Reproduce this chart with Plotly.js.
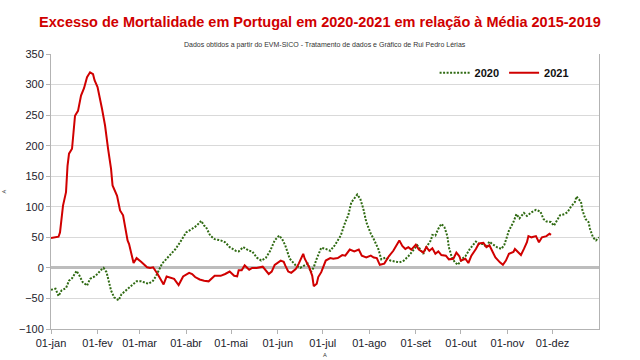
<!DOCTYPE html>
<html><head><meta charset="utf-8">
<script src="https://cdn.plot.ly/plotly-3.0.1.min.js"></script>
<style>html,body{margin:0;padding:0;background:#fff;}#chart{width:640px;height:360px;}</style>
</head><body><div id="chart"></div>
<script>
// days since 01-jan
const days2020 = [0,3,5,7,10,12,14,17,19,21,24,26,29,31,33,35,37,38,40,42,45,47,50,54,57,60,63,65,68,70,74,77,79,81,83,86,90,94,97,100,102,103,106,109,113,116,119,123,125,128,132,134,137,140,143,146,149,152,154,156,159,163,166,168,171,173,175,177,180,183,186,189,193,196,198,200,203,204,206,208,210,213,215,218,220,223,226,229,232,235,238,242,244,246,248,250,253,254,256,258,260,262,264,265,267,269,271,274,276,279,283,285,288,290,292,294,297,300,302,305,308,310,312,315,317,320,323,326,328,330,333,335,337,339,342,344,346,349,350,353,354,356,358,359,361,363,365];
const vals2020 = [-36,-34,-46,-37,-33,-21,-17,-5,-13,-23,-29,-18,-14,-10,-4,0,-7,-18,-37,-48,-53,-43,-37,-29,-22,-22,-25,-26,-21,-13,7,15,20,26,31,42,58,64,69,77,69,68,53,47,45,42,34,28,27,34,28,27,17,12,16,28,45,53,47,37,15,4,0,3,7,-7,1,15,33,31,28,37,53,75,86,107,117,120,113,97,75,56,47,31,14,17,12,10,9,12,19,31,37,30,23,34,45,54,53,64,72,67,52,34,17,9,5,15,19,31,43,39,39,34,43,39,34,31,38,61,75,88,81,90,85,91,95,92,80,76,75,69,77,86,88,91,99,108,117,108,94,80,75,64,50,45,50];
const days2021 = [0,5,6,8,10,11,12,14,15,16,18,20,22,24,26,28,29,31,34,36,38,40,41,44,46,48,51,52,55,57,60,64,66,68,71,75,77,78,82,85,88,92,94,96,99,102,105,109,113,116,119,122,124,125,127,129,132,134,137,141,143,145,147,149,153,155,156,158,160,163,165,168,169,172,174,175,177,178,180,183,186,188,191,194,196,199,202,205,207,210,213,215,217,219,222,225,228,230,232,234,236,238,240,243,245,248,250,252,254,256,258,260,263,265,268,270,272,273,276,278,280,283,285,288,290,292,294,296,299,301,303,305,308,309,311,313,315,317,318,320,323,325,327,330,332,333];
const vals2021 = [49,51,58,102,124,167,187,195,222,249,257,282,294,312,320,317,307,296,260,233,195,162,135,118,94,86,45,39,8,16,10,1,0,1,-10,-27,-14,-15,-18,-28,-14,-8,-10,-15,-19,-21,-22,-13,-13,-10,-6,-13,-14,-4,-4,4,-3,0,0,2,-4,-10,-6,5,12,10,4,-6,-8,-2,7,23,15,1,-13,-30,-26,-15,-7,12,16,15,16,21,20,30,27,30,20,17,20,17,16,5,7,19,28,37,45,36,31,34,30,38,30,25,34,28,32,23,27,21,20,14,15,25,19,12,15,8,20,31,40,41,34,37,28,17,9,5,12,23,26,31,26,21,31,42,52,50,52,42,50,52,56,54];
const monthDays = [0,31,59,90,120,151,181,212,243,273,304,334];
const monthLabels = ['01-jan','01-fev','01-mar','01-abr','01-mai','01-jun','01-jul','01-ago','01-set','01-out','01-nov','01-dez'];
const seriesNames = ['2020','2021'];

const traces = [
  {x: days2020, y: vals2020, name: seriesNames[0], type:'scatter', mode:'lines',
   line:{color:'#2f6a12', width:2, dash:'2px,1.5px'}},
  {x: days2021, y: vals2021, name: seriesNames[1], type:'scatter', mode:'lines',
   line:{color:'#d00000', width:2}}
];
const tickFont = {family:'Liberation Sans, Arial, sans-serif', size:11, color:'#1c1c2c'};
const layout = {
  width:640, height:360,
  margin:{l:51, r:41, t:54, b:31},
  paper_bgcolor:'#fff', plot_bgcolor:'#fff',
  showlegend:true,
  legend:{orientation:'h', x:0.70, y:0.985, xanchor:'left', yanchor:'top',
    font:{family:'Liberation Sans, Arial, sans-serif', size:11, color:'#111', weight:'bold'},
    bgcolor:'rgba(0,0,0,0)', traceorder:'normal'},
  title:{text:'Excesso de Mortalidade em Portugal em 2020-2021 em relação à Média 2015-2019',
    font:{family:'Liberation Sans, Arial, sans-serif', size:14.5, color:'#d00000', weight:'bold'},
    x:0.5, xanchor:'center', y:0.94, yanchor:'middle'},
  xaxis:{range:[0,365], tickmode:'array', tickvals:monthDays, ticktext:monthLabels,
    showgrid:false, zeroline:false, showline:true, linecolor:'#b3b3b3', linewidth:1,
    ticks:'outside', ticklen:4, tickcolor:'#b3b3b3', tickfont:tickFont, mirror:false,
    title:{text:'A', font:{size:6, color:'#333'}, standoff:4}},
  yaxis:{range:[-100,350], dtick:50, showgrid:true, gridcolor:'#d9d9d9', gridwidth:1,
    zeroline:true, zerolinecolor:'#bdbdbd', zerolinewidth:3,
    showline:true, linecolor:'#b3b3b3', linewidth:1, mirror:true,
    ticks:'outside', ticklen:4, tickcolor:'#b3b3b3', tickfont:tickFont,
    title:{text:'A', font:{size:6, color:'#333'}, standoff:13}},
  annotations:[{text:'Dados obtidos a partir do EVM-SICO - Tratamento de dados e Gráfico de Rui Pedro Lérias',
    xref:'paper', yref:'paper', x:0.5, y:1, yshift:3, xanchor:'center', yanchor:'bottom',
    showarrow:false, font:{family:'Liberation Sans, Arial, sans-serif', size:7, color:'#333'}}]
};
Plotly.newPlot('chart', traces, layout, {displayModeBar:false, staticPlot:true});
</script></body></html>
